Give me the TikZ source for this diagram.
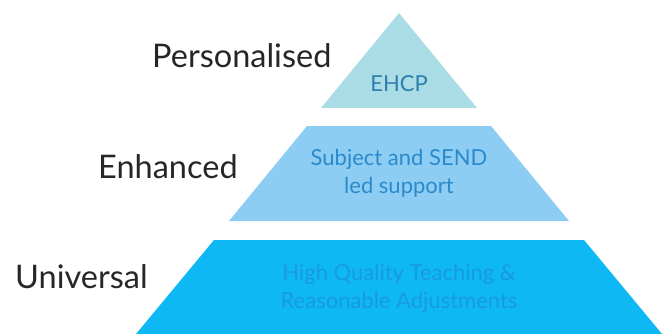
\documentclass[tikz,border=0pt]{standalone}
\usepackage{fontspec}
\setmainfont{Lato}
\definecolor{tierTop}{HTML}{A9DCE4}
\definecolor{tierMid}{HTML}{8DCDF4}
\definecolor{tierLow}{HTML}{0DB8F5}
\definecolor{textTop}{HTML}{2F7FAE}
\definecolor{textMid}{HTML}{2A8ACB}
\definecolor{textLow}{HTML}{1A9ADC}
\tikzset{
    levelname/.style={anchor=base west,inner sep=0pt,text=black!85,font=\fontsize{32.5}{36}\selectfont},
    tiertext/.style={align=center,inner sep=0pt,font=\fontsize{22}{28}\selectfont}
}

\begin{document}
\begin{tikzpicture}[x=1pt,y=-1pt]
    \useasboundingbox (0,0) rectangle (663,334);
    % pyramid tiers
    \fill[tierTop] (399,13) -- (477,108) -- (321,108) -- cycle;
    \fill[tierMid] (307,126) -- (491,126) -- (569,221) -- (229,221) -- cycle;
    \fill[tierLow] (214,240) -- (584,240) -- (662,334) -- (136,334) -- cycle;
    % tier texts
    \node[tiertext,text=textTop] (ehcp) at (399,84) {EHCP};
    \node[tiertext,text=textMid] (send) at (399,173) {Subject and SEND\\led support};
    \node[tiertext,text=textLow] (hqt) at (399,288) {High Quality Teaching \&\\Reasonable Adjustments};
    % level names
    \foreach \name/\level/\x/\y in {personal/Personalised/152/68, enhanced/Enhanced/98/178, universal/Universal/15/288} {
        \node[levelname] (\name) at (\x,\y) {\level};
    }
\end{tikzpicture}
\end{document}
